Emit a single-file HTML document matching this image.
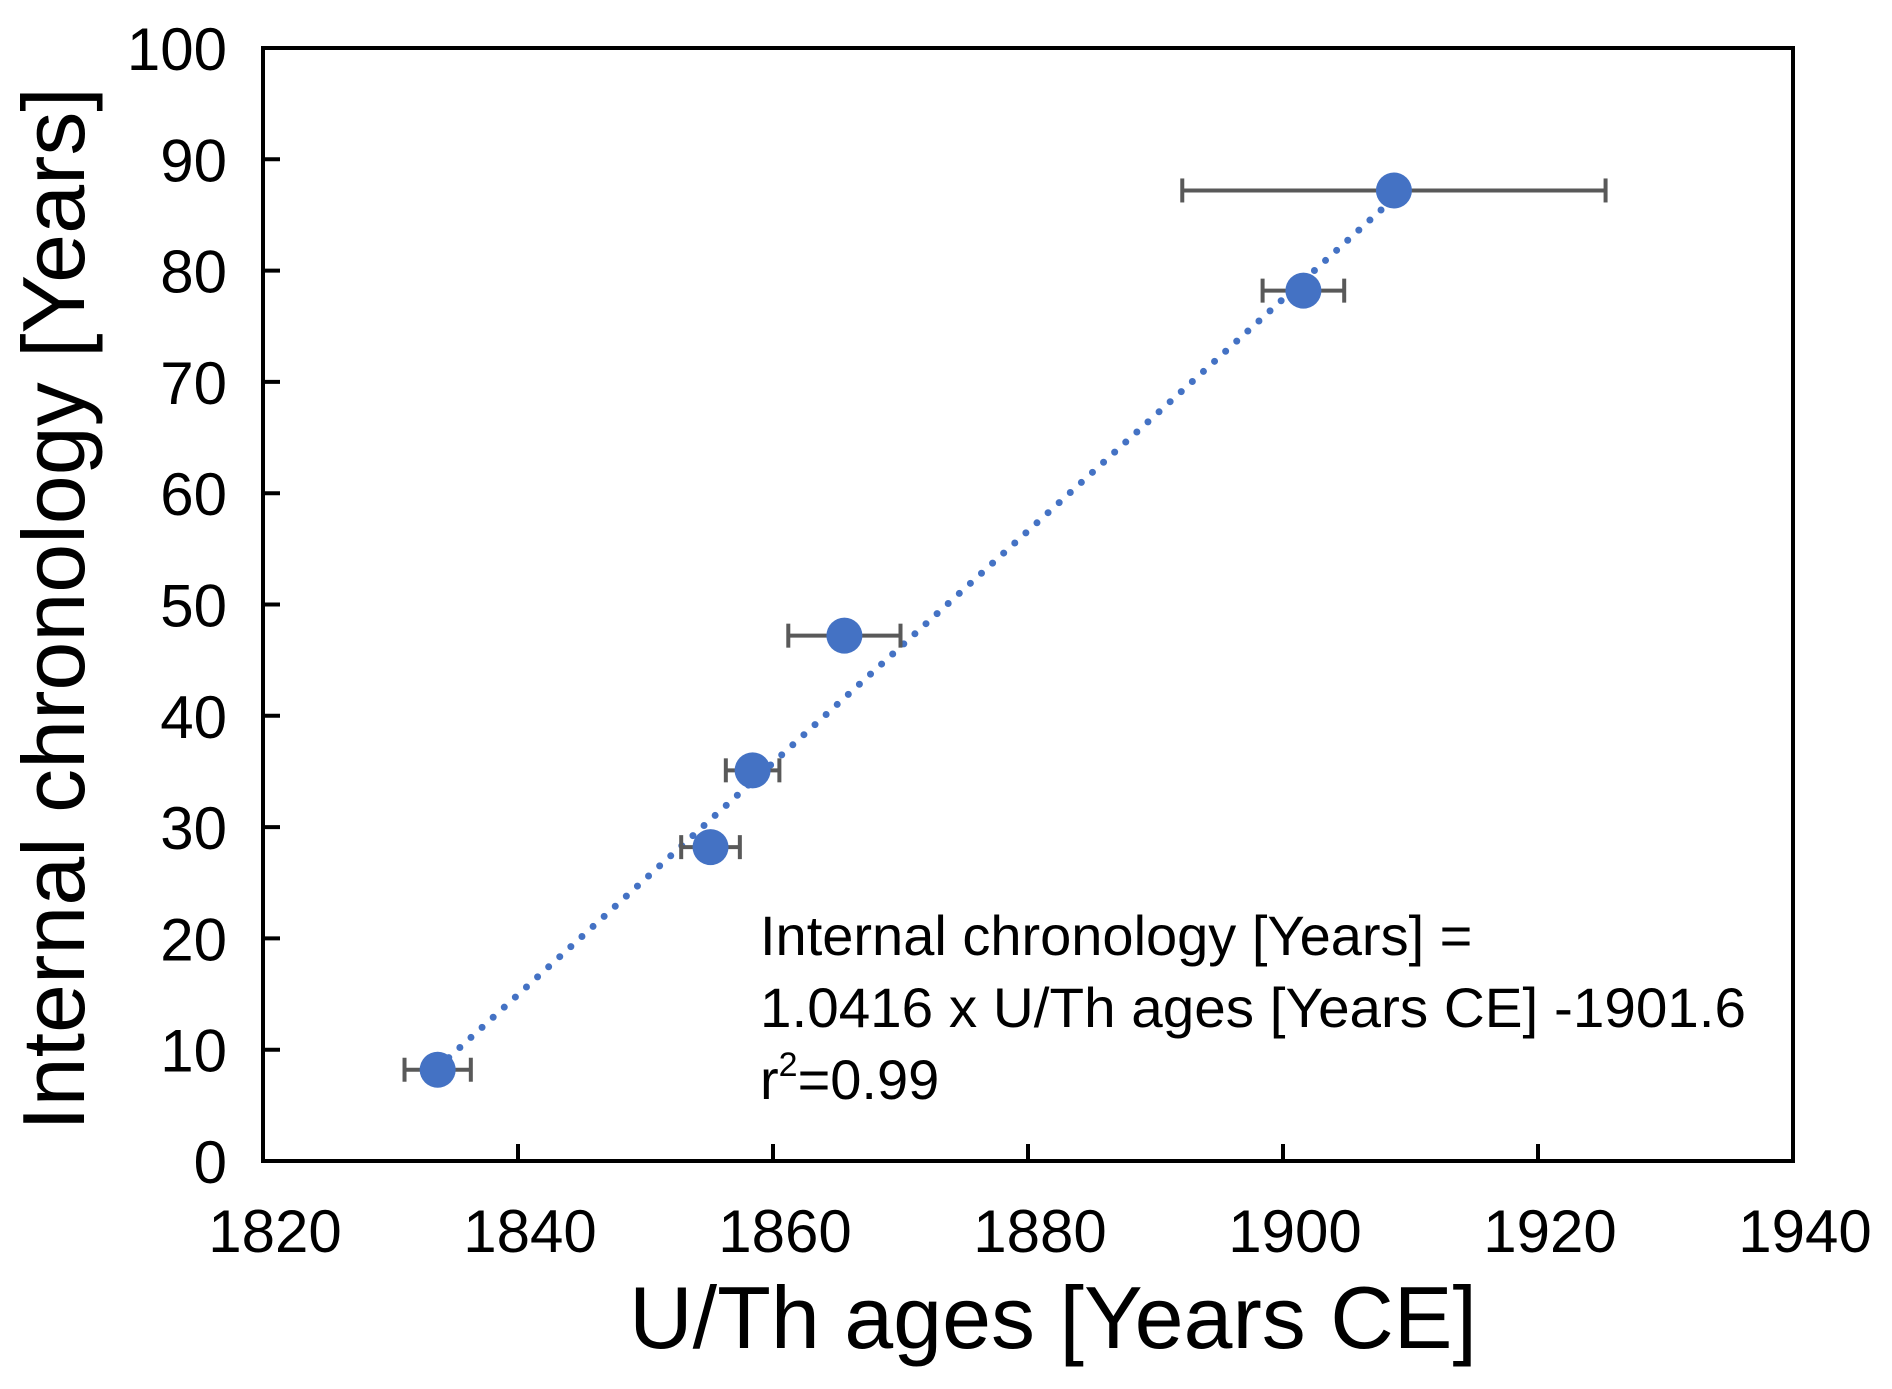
<!DOCTYPE html>
<html><head><meta charset="utf-8"><style>
html,body{margin:0;padding:0;background:#fff}
svg{display:block;font-family:"Liberation Sans",Arial,sans-serif}
</style></head><body>
<svg id="chart" width="1892" height="1389" viewBox="0 0 1892 1389" xmlns="http://www.w3.org/2000/svg">
<g id="trend-layer"></g>
<g id="err-layer"></g>
<g id="pt-layer"></g>
<g id="axis-layer"></g>
<text transform="translate(84,609) rotate(-90)" text-anchor="middle" font-size="88">Internal chronology [Years]</text>
<text x="1053" y="1348" text-anchor="middle" font-size="88">U/Th ages [Years CE]</text>
<g font-size="56">
<text x="760" y="955">Internal chronology [Years] =</text>
<text x="760" y="1027" textLength="986" lengthAdjust="spacingAndGlyphs">1.0416 x U/Th ages [Years CE] -1901.6</text>
<text x="760" y="1099">r<tspan dy="-23" font-size="34">2</tspan><tspan dy="23">=0.99</tspan></text>
</g>
</svg>
<script>
const xValues=[1833.7,1855.1,1858.4,1865.6,1901.6,1908.7];
const yValues=[8.2,28.2,35.1,47.2,78.2,87.2];
const xErrors=[2.6,2.3,2.1,4.4,3.2,16.6];
const xTicks=[1820,1840,1860,1880,1900,1920,1940];
const yTicks=[0,10,20,30,40,50,60,70,80,90,100];
const slope=1.0416, intercept=-1901.6;

const L=263,R=1793,T=48,B=1161;
const xs=v=>L+(v-1820)/(120)*(R-L);
const ys=v=>B-(v/100)*(B-T);
const NS="http://www.w3.org/2000/svg";
function mk(tag,attrs,parent){const e=document.createElementNS(NS,tag);for(const k in attrs)e.setAttribute(k,attrs[k]);parent.appendChild(e);return e;}
const axis=document.getElementById('axis-layer');
const frame=mk('rect',{x:L,y:T,width:R-L,height:B-T,fill:'none',stroke:'#000','stroke-width':4},axis);


xTicks.forEach(t=>{
  const x=xs(t);
  if(t>1820&&t<1940){const tk=mk('line',{x1:x,x2:x,y1:B,y2:B-17,stroke:'#000','stroke-width':4},axis);
  
  }
  const tl=mk('text',{x:x+12,y:1252,'text-anchor':'middle','font-size':60},axis);
  tl.textContent=t;
  
  
});
yTicks.forEach(t=>{
  const y=ys(t);
  if(t>0&&t<100){const tk=mk('line',{x1:L,x2:L+17,y1:y,y2:y,stroke:'#000','stroke-width':4},axis);
  
  }
  const tl=mk('text',{x:227,y:y+22,'text-anchor':'end','font-size':60},axis);
  tl.textContent=t;
  
  
});
const x0=Math.min(...xValues),x1=Math.max(...xValues);
const tr=mk('line',{x1:xs(x0),y1:ys(slope*x0+intercept),x2:xs(x1),y2:ys(slope*x1+intercept),stroke:'#4472C4','stroke-width':7,'stroke-dasharray':'0 15','stroke-linecap':'round'},document.getElementById('trend-layer'));


const eg=document.getElementById('err-layer'),pg=document.getElementById('pt-layer');
xValues.forEach((xv,i)=>{
  const y=ys(yValues[i]),a=xs(xv-xErrors[i]),b=xs(xv+xErrors[i]);
  const g=mk('g',{stroke:'#595959','stroke-width':4},eg);
  
  
  mk('line',{x1:a,x2:b,y1:y,y2:y},g);
  mk('line',{x1:a,x2:a,y1:y-12,y2:y+12},g);
  mk('line',{x1:b,x2:b,y1:y-12,y2:y+12},g);
  const c=mk('circle',{cx:xs(xv),cy:y,r:18,fill:'#4472C4'},pg);
  
  
});
</script>
</body></html>
